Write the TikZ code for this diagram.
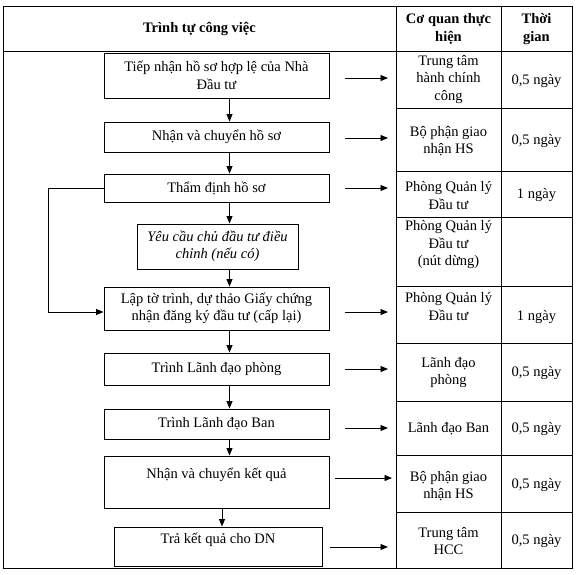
\documentclass[tikz,border=0pt]{standalone}
\usepackage{fontspec}
\setmainfont{Liberation Serif}
\usetikzlibrary{arrows.meta}
\begin{document}
\begin{tikzpicture}[x=1pt,y=-1pt,
  every node/.style={font=\fontsize{14.5}{17.5}\selectfont, inner sep=0pt, align=center},
  box/.style={draw, line width=0.9pt, minimum width=225pt},
  arr/.style={line width=0.9pt, -{Triangle[length=7.5pt,width=6pt]}},
  tbl/.style={line width=0.8pt},
  hd/.style={font=\fontsize{14.5}{17.5}\selectfont\bfseries}]
\useasboundingbox (0,0) rectangle (576,574);
% table frame
\draw[tbl] (3,6) rectangle (572,568);
\draw[tbl] (3,51) -- (572,51);
\draw[tbl] (396,6) -- (396,568);
\draw[tbl] (501,6) -- (501,568);
\foreach \y in {108,171,217,286,343,401,455,512} \draw[tbl] (396,\y) -- (572,\y);
% header
\node[hd] (h1) at (199.5,29) {Trình tự công việc};
\node[hd] (h2) at (448.5,29) {Cơ quan thực\\hiện};
\node[hd] (h3) at (536.5,29) {Thời\\gian};
% flow boxes
\node[box, minimum height=45pt] (b1) at (216.5,75.5) {Tiếp nhận hồ sơ hợp lệ của Nhà\\Đầu tư};
\node[box, minimum height=30pt] (b2) at (216.5,137) {Nhận và chuyển hồ sơ};
\node[box, minimum height=28pt] (b3) at (216.5,188) {Thẩm định hồ sơ};
\node[box, minimum width=161pt, minimum height=45pt, font=\fontsize{14.5}{17.5}\selectfont\itshape] (b4) at (217.5,246.5) {Yêu cầu chủ đầu tư điều\\chỉnh (nếu có)};
\node[box, minimum height=43pt] (b5) at (216.5,308.5) {Lập tờ trình, dự thảo Giấy chứng\\nhận đăng ký đầu tư (cấp lại)};
\node[box, minimum height=32pt] (b6) at (216.5,369) {Trình Lãnh đạo phòng};
\node[box, minimum height=30pt] (b7) at (216.5,424) {Trình Lãnh đạo Ban};
\node[box, minimum height=52pt] (b8) at (216.5,482) {Nhận và chuyển kết quả\\\mbox{}};
\node[box, minimum width=208pt, minimum height=39pt] (b9) at (218,546.5) {Trả kết quả cho DN\\\mbox{}};
% right cells
\node (c1) at (448.5,79.5) {Trung tâm\\hành chính\\công};
\node (t1) at (536.5,81) {0,5 ngày};
\node (c2) at (448.5,141) {Bộ phận giao\\nhận HS};
\node (t2) at (536.5,141) {0,5 ngày};
\node (c3) at (448.5,195.5) {Phòng Quản lý\\Đầu tư};
\node (t3) at (536.5,195) {1 ngày};
\node (c4) at (448.5,245) {Phòng Quản lý\\Đầu tư\\(nút dừng)};
\node (c5) at (448.5,306.5) {Phòng Quản lý\\Đầu tư};
\node (t5) at (536.5,317) {1 ngày};
\node (c6) at (448.5,372.5) {Lãnh đạo\\phòng};
\node (t6) at (536.5,373) {0,5 ngày};
\node (c7) at (448.5,429) {Lãnh đạo Ban};
\node (t7) at (536.5,429) {0,5 ngày};
\node (c8) at (448.5,486) {Bộ phận giao\\nhận HS};
\node (t8) at (536.5,485) {0,5 ngày};
\node (c9) at (448.5,541) {Trung tâm\\HCC};
\node (t9) at (536.5,541) {0,5 ngày};
% vertical connectors
\coordinate (cx) at (229.5,0);
\coordinate (cy) at (222,0);
\draw[arr] (b1.south -| cx) -- (b2.north -| cx);
\draw[arr] (b2.south -| cx) -- (b3.north -| cx);
\draw[arr] (b3.south -| cx) -- (b4.north -| cx);
\draw[arr] (b4.south -| cx) -- (b5.north -| cx);
\draw[arr] (b5.south -| cx) -- (b6.north -| cx);
\draw[arr] (b6.south -| cx) -- (b7.north -| cx);
\draw[arr] (b7.south -| cx) -- (b8.north -| cx);
\draw[arr] (b8.south -| cy) -- (b9.north -| cy);
% loop back
\coordinate (lp) at (48,312);
\draw[arr] (b3.west) -| (lp) -- (lp -| b5.west);
% right arrows
\coordinate (a1s) at (345,78);  \coordinate (a1e) at (388,78);
\coordinate (a2s) at (345,138); \coordinate (a2e) at (388,138);
\coordinate (a3s) at (345,188); \coordinate (a3e) at (388,188);
\coordinate (a5s) at (345,312); \coordinate (a5e) at (388,312);
\coordinate (a6s) at (345,369); \coordinate (a6e) at (388,369);
\coordinate (a7s) at (345,428); \coordinate (a7e) at (388,428);
\coordinate (a8s) at (335,478); \coordinate (a8e) at (392,478);
\coordinate (a9s) at (330,547); \coordinate (a9e) at (388,547);
\foreach \i in {1,2,3,5,6,7,8,9} \draw[arr] (a\i s) -- (a\i e);
\end{tikzpicture}
\end{document}
